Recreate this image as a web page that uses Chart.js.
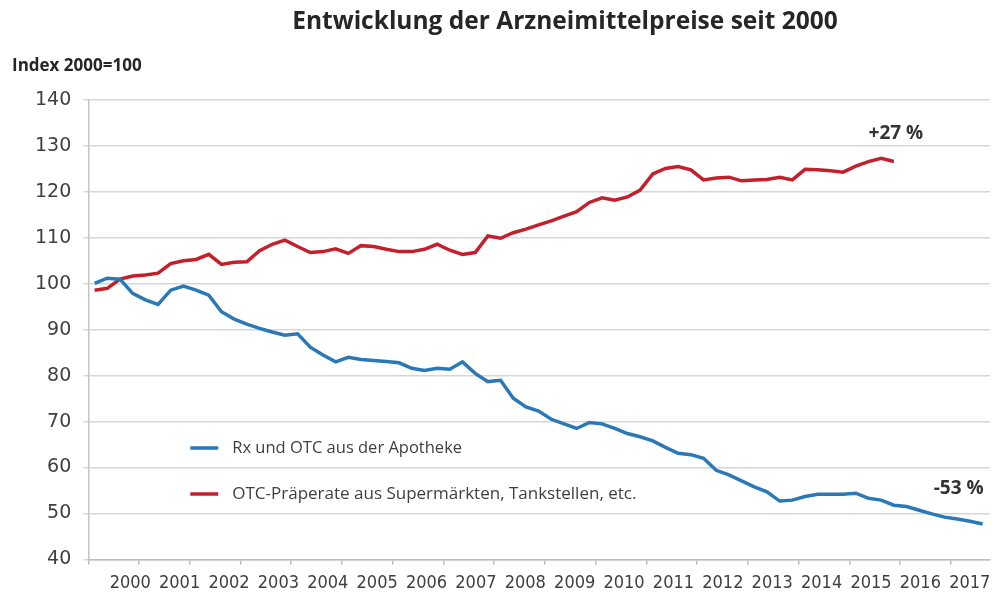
<!DOCTYPE html>
<html>
<head>
<meta charset="utf-8">
<title>Entwicklung der Arzneimittelpreise seit 2000</title>
<script src="https://cdn.jsdelivr.net/npm/chart.js@4.4.1/dist/chart.umd.min.js"></script>
<style>
  html, body { margin: 0; padding: 0; background: #fff; }
  #wrap { width: 992px; height: 592px; position: relative; }
</style>
</head>
<body>
<div id="wrap"><canvas id="myChart"></canvas></div>
<script>
// Quartalswerte, Index 2000 = 100 (erster Wert = 1. Quartal 2000)
const firstQuarter = 2000.125;

const rxValues = [
    100.1, 101.2, 101.0, 97.9, 96.5, 95.5, 98.6, 99.5, 98.6, 97.5,
    93.9, 92.3, 91.2, 90.3, 89.5, 88.8, 89.1, 86.2, 84.5, 83.0,
    84.0, 83.5, 83.3, 83.1, 82.8, 81.6, 81.1, 81.6, 81.4, 83.0,
    80.5, 78.7, 79.0, 75.1, 73.2, 72.3, 70.5, 69.5, 68.5, 69.8,
    69.5, 68.5, 67.4, 66.7, 65.8, 64.4, 63.1, 62.8, 62.0, 59.4,
    58.4, 57.1, 55.8, 54.7, 52.7, 52.9, 53.7, 54.2, 54.2, 54.2,
    54.4, 53.3, 52.9, 51.8, 51.5, 50.7, 49.9, 49.2, 48.8, 48.3,
    47.7
];

const otcValues = [
    98.6, 99.0, 101.0, 101.7, 101.9, 102.3, 104.4, 105.0, 105.3, 106.4,
    104.2, 104.7, 104.8, 107.2, 108.6, 109.5, 108.1, 106.8, 107.0, 107.6,
    106.6, 108.3, 108.1, 107.5, 107.0, 107.0, 107.5, 108.6, 107.3, 106.4,
    106.8, 110.4, 109.9, 111.1, 111.9, 112.8, 113.7, 114.7, 115.7, 117.7,
    118.7, 118.2, 118.9, 120.4, 123.9, 125.1, 125.5, 124.8, 122.6, 123.0,
    123.2, 122.4, 122.6, 122.7, 123.2, 122.6, 124.9, 124.8, 124.6, 124.3,
    125.6, 126.6, 127.3, 126.6
];

const seriesNames = ['Rx und OTC aus der Apotheke', 'OTC-Präperate aus Supermärkten, Tankstellen, etc.'];
const seriesColors = ['#2a78b8', '#c3202c'];
const endLabels = ['-53 %', '+27 %'];

const yearLabels = [2000, 2001, 2002, 2003, 2004, 2005, 2006, 2007, 2008,
    2009, 2010, 2011, 2012, 2013, 2014, 2015, 2016, 2017];
const yearBorders = [2000, 2001, 2002, 2003, 2004, 2005, 2006, 2007, 2008,
    2009, 2010, 2011, 2012, 2013, 2014, 2015, 2016, 2017];

const chartTitle = 'Entwicklung der Arzneimittelpreise seit 2000';
const axisTitle = 'Index 2000=100';

const textColor = '#404040';
const gridColor = '#d6d6d6';

// Quartalswerte in {x, y} Punkte umwandeln
function toPoints(values) {
    return values.map((v, i) => ({ x: firstQuarter + i * 0.25, y: v }));
}

// Titel, Achsentitel, Legende und Endwerte selbst zeichnen
const extraText = {
    id: 'extraText',
    afterDraw(chart) {
        const ctx = chart.ctx;
        const area = chart.chartArea;
        ctx.save();
        ctx.fillStyle = '#262626';
        ctx.textBaseline = 'middle';

        ctx.font = 'bold 24.5px "Open Sans"';
        ctx.textAlign = 'center';
        ctx.fillText(chartTitle, 565, 22);

        ctx.font = 'bold 17px "Open Sans"';
        ctx.textAlign = 'left';
        ctx.fillText(axisTitle, 12, 66);

        // Legende im Diagramm
        const legendFont = ['16.5px "Open Sans"', '17px "Open Sans"'];
        chart.data.datasets.forEach((ds, i) => {
            const y = area.top + 348 + i * 46;
            ctx.strokeStyle = ds.borderColor;
            ctx.lineWidth = 3.5;
            ctx.beginPath();
            ctx.moveTo(area.left + 102, y);
            ctx.lineTo(area.left + 130, y);
            ctx.stroke();
            ctx.fillStyle = textColor;
            ctx.font = legendFont[i];
            ctx.fillText(ds.label, area.left + 144, y);
        });

        // Veränderung am Ende jeder Linie
        ctx.font = 'bold 19px "Open Sans"';
        ctx.fillStyle = '#333333';
        ctx.textAlign = 'center';
        const rxMeta = chart.getDatasetMeta(0);
        const rxLast = rxMeta.data[rxMeta.data.length - 1];
        ctx.fillText(chart.data.datasets[0].endLabel, rxLast.x - 24, rxLast.y - 35);
        const otcMeta = chart.getDatasetMeta(1);
        const otcLast = otcMeta.data[otcMeta.data.length - 1];
        ctx.fillText(chart.data.datasets[1].endLabel, otcLast.x + 2, otcLast.y - 28);
        ctx.restore();
    }
};

const ctx = document.getElementById('myChart').getContext('2d');
const chart = new Chart(ctx, {
    type: 'line',
    data: {
        datasets: [
            {
                label: seriesNames[0],
                data: toPoints(rxValues),
                borderColor: seriesColors[0],
                borderWidth: 3.5,
                pointRadius: 0,
                tension: 0,
                endLabel: endLabels[0],
                xAxisID: 'x',
                yAxisID: 'y'
            },
            {
                label: seriesNames[1],
                data: toPoints(otcValues),
                borderColor: seriesColors[1],
                borderWidth: 3.5,
                pointRadius: 0,
                tension: 0,
                endLabel: endLabels[1],
                xAxisID: 'x',
                yAxisID: 'y'
            }
        ]
    },
    options: {
        responsive: true,
        maintainAspectRatio: false,
        animation: false,
        layout: {
            padding: { top: 100, left: 23, right: 2, bottom: -2 }
        },
        plugins: {
            legend: { display: false },
            tooltip: { enabled: false }
        },
        scales: {
            x: {
                type: 'linear',
                position: 'bottom',
                min: 2000,
                max: 2017.77,
                afterBuildTicks: function (scale) {
                    scale.ticks = yearBorders.map(v => ({ value: v }));
                },
                grid: {
                    drawOnChartArea: false,
                    drawTicks: true,
                    tickLength: 5,
                    color: '#bdbdbd',
                    lineWidth: 1.5
                },
                border: { color: '#bdbdbd', width: 1.5 },
                ticks: { display: false }
            },
            xYears: {
                type: 'linear',
                position: 'bottom',
                min: 1999.15,
                max: 2017.41,
                afterBuildTicks: function (scale) {
                    scale.ticks = yearLabels.map(v => ({ value: v }));
                },
                grid: { display: false },
                border: { display: false },
                ticks: {
                    color: textColor,
                    padding: 0,
                    maxRotation: 0,
                    autoSkip: false,
                    font: { family: '"DejaVu Sans Condensed", "DejaVu Sans", sans-serif', size: 18 },
                    callback: v => String(v)
                }
            },
            y: {
                min: 40,
                max: 140,
                ticks: {
                    stepSize: 10,
                    color: textColor,
                    padding: 12,
                    font: { family: '"DejaVu Sans", sans-serif', size: 19 }
                },
                grid: {
                    color: gridColor,
                    lineWidth: 1.5,
                    tickLength: 5
                },
                border: { color: '#c4c4c4', width: 1.5 }
            }
        }
    },
    plugins: [extraText]
});
</script>
</body>
</html>
